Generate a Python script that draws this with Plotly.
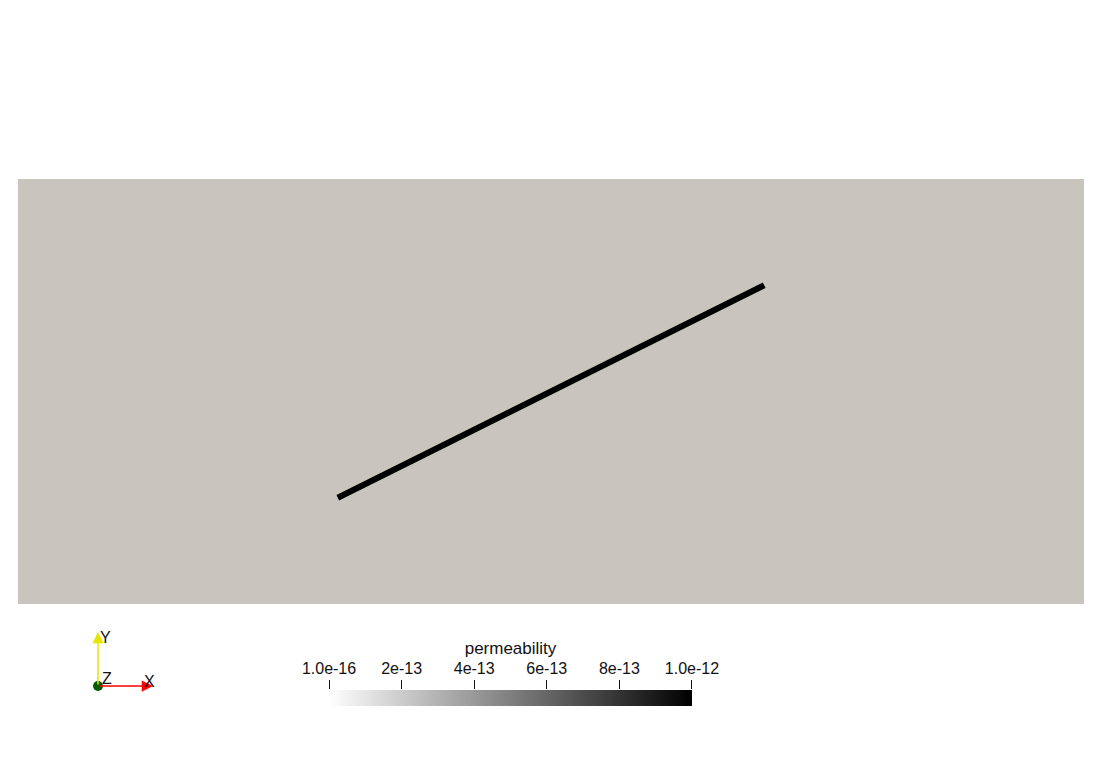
import numpy as np
import plotly.graph_objects as go

# ---- data ----
domain_x = [0, 250, 250, 0, 0]
domain_y = [0, 0, 100, 100, 0]
fracture_x = [75, 175]
fracture_y = [25, 75]
perm_min = 1.0e-16
perm_max = 1.0e-12
fracture_perm = 1.0e-12
cbar_tickvals = [1.0e-16, 2e-13, 4e-13, 6e-13, 8e-13, 1.0e-12]
cbar_ticktext = ["1.0e-16", "2e-13", "4e-13", "6e-13", "8e-13", "1.0e-12"]
cbar_title = "permeability"

W, H = 1102, 784
FONT = "Liberation Sans"
gray_scale = [[0, "rgb(255,255,255)"], [1, "rgb(0,0,0)"]]

fig = go.Figure()

# domain (solid coloured block)
fig.add_trace(go.Scatter(x=domain_x, y=domain_y, mode="lines", fill="toself",
                         fillcolor="rgb(199,197,189)", line=dict(width=0, color="rgb(199,197,189)"),
                         hoverinfo="skip", showlegend=False))
# fracture coloured by permeability
fig.add_trace(go.Scatter(x=fracture_x, y=fracture_y, mode="lines",
                         line=dict(color="rgb(0,0,0)", width=6),
                         hoverinfo="skip", showlegend=False))

# colour bar as a heatmap on its own axes
cb_vals = np.linspace(perm_min, perm_max, 400)
fig.add_trace(go.Heatmap(z=[cb_vals], x=cb_vals, y=[0], colorscale=gray_scale,
                         zmin=perm_min, zmax=perm_max, showscale=False,
                         xaxis="x2", yaxis="y2", hoverinfo="skip"))

# pixel -> axis mapping for main view
px_l, px_r, py_t, py_b = 18, 1084, 179, 604
sx = 250 / (px_r - px_l)
sy = 100 / (py_b - py_t)
xr = [(0 - px_l) * sx, (W - px_l) * sx]
yr = [(py_b - H) * sy, (py_b - 0) * sy]

def px(x):
    return x / W

def py(y):
    return 1 - y / H

eps = (perm_max - perm_min) * 0.002
fig.update_layout(
    width=W, height=H, margin=dict(l=0, r=0, t=0, b=0, pad=0, autoexpand=False),
    autosize=False,
    paper_bgcolor="white", plot_bgcolor="white",
    font=dict(family=FONT, size=16, color="#111"),
    xaxis=dict(range=xr, visible=False, domain=[0, 1], automargin=False),
    yaxis=dict(range=yr, visible=False, domain=[0, 1], automargin=False),
    xaxis2=dict(domain=[px(329), px(692)], anchor="y2", side="top", automargin=False,
                range=[perm_min - eps * 0.01, perm_max + eps * 0.01],
                tickvals=cbar_tickvals, ticktext=cbar_ticktext,
                ticks="outside", ticklen=9, tickwidth=1, tickcolor="#111",
                showgrid=False, zeroline=False, showline=False,
                tickfont=dict(family=FONT, size=16, color="#111"),
                title=dict(text=cbar_title, standoff=0,
                           font=dict(family=FONT, size=17, color="#111"))),
    yaxis2=dict(domain=[py(706), py(690)], anchor="x2", range=[-0.5, 0.5], visible=False,
                automargin=False),
    showlegend=False,
)

# orientation triad
ox, oy = 98, 686
fig.add_annotation(x=px(153), y=py(oy), xref="paper", yref="paper", text="",
                   showarrow=True, ax=-(153 - ox), ay=0, arrowcolor="rgb(255,0,0)",
                   arrowhead=2, arrowsize=1.5, arrowwidth=1.5)
fig.add_annotation(x=px(ox), y=py(632), xref="paper", yref="paper", text="",
                   showarrow=True, ax=0, ay=(oy - 632), arrowcolor="rgb(230,230,0)",
                   arrowhead=2, arrowsize=1.5, arrowwidth=1.5)
fig.add_shape(type="circle", xref="paper", yref="paper",
              x0=px(ox - 5), x1=px(ox + 5), y0=py(oy + 5), y1=py(oy - 5),
              fillcolor="rgb(0,90,0)", line=dict(width=0))
for t, cx, cy in [("Y", 105, 637), ("X", 149, 681), ("Z", 107, 678)]:
    fig.add_annotation(x=px(cx), y=py(cy), xref="paper", yref="paper", text=t,
                       showarrow=False, font=dict(family=FONT, size=16, color="#111"),
                       xanchor="center", yanchor="middle")

fig.write_html("out.html")
